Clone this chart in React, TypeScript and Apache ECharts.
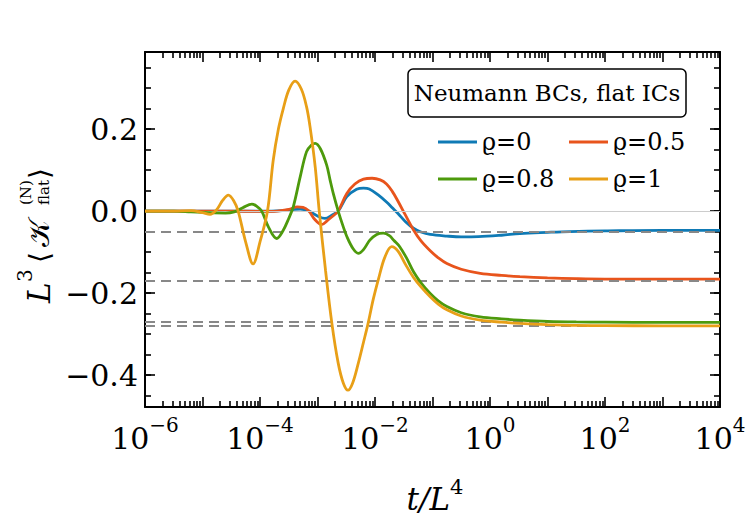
import React, { useEffect, useRef } from "react";
import * as echarts from "echarts";

// x values are log10(t / L^4)
const logT_rho0 = [-6, -4.5, -3.8, -3.6, -3.45, -3.3, -3.15, -3.0, -2.87, -2.75, -2.64, -2.49, -2.32, -2.2, -2.1, -1.95, -1.8, -1.7, -1.6, -1.47, -1.33, -1.2, -1.04, -0.75, -0.5, -0.2, 0.2, 0.52, 1.0, 1.39, 2.0, 3.0, 4.0];
const val_rho0 = [0, 0, 0, 0.001, 0.003, 0.005, 0, -0.012, -0.018, -0.01, 0, 0.035, 0.053, 0.056, 0.054, 0.04, 0.022, 0.008, -0.006, -0.026, -0.042, -0.051, -0.057, -0.061, -0.063, -0.0625, -0.059, -0.055, -0.052, -0.05, -0.0485, -0.047, -0.047];

const logT_rho05 = [-6, -4.5, -4.0, -3.7, -3.5, -3.35, -3.25, -3.15, -3.05, -2.93, -2.82, -2.72, -2.64, -2.49, -2.35, -2.2, -2.05, -1.91, -1.8, -1.7, -1.6, -1.47, -1.33, -1.2, -1.04, -0.9, -0.75, -0.5, -0.17, 0.2, 0.52, 1.0, 1.5, 2.0, 3.0, 4.0];
const val_rho05 = [0, 0, -0.001, 0, 0.004, 0.01, 0.009, 0, -0.02, -0.033, -0.022, -0.011, 0, 0.043, 0.066, 0.078, 0.08, 0.076, 0.066, 0.048, 0.024, -0.01, -0.046, -0.073, -0.097, -0.114, -0.128, -0.142, -0.152, -0.157, -0.16, -0.163, -0.165, -0.166, -0.166, -0.166];

const logT_rho08 = [-6, -5.5, -5.2, -4.9, -4.6, -4.45, -4.3, -4.14, -4.05, -3.97, -3.85, -3.71, -3.6, -3.5, -3.42, -3.3, -3.19, -3.1, -3.04, -2.95, -2.84, -2.78, -2.72, -2.64, -2.56, -2.49, -2.38, -2.29, -2.2, -2.09, -1.97, -1.855, -1.75, -1.67, -1.57, -1.45, -1.33, -1.2, -1.04, -0.9, -0.75, -0.5, -0.17, 0.2, 0.52, 1.0, 1.5, 2.0, 3.0, 4.0];
const val_rho08 = [0, 0, -0.002, -0.004, -0.005, -0.002, 0.008, 0.017, 0.011, 0, -0.04, -0.067, -0.048, -0.018, 0.011, 0.084, 0.145, 0.162, 0.165, 0.152, 0.112, 0.075, 0.04, 0, -0.035, -0.062, -0.092, -0.103, -0.094, -0.071, -0.057, -0.054, -0.06, -0.072, -0.087, -0.115, -0.148, -0.175, -0.201, -0.219, -0.233, -0.248, -0.258, -0.263, -0.266, -0.269, -0.2705, -0.271, -0.2715, -0.2715];

const logT_rho1 = [-6, -5.5, -5.2, -5.0, -4.87, -4.75, -4.65, -4.55, -4.46, -4.38, -4.25, -4.12, -4.0, -3.87, -3.77, -3.68, -3.595, -3.5, -3.39, -3.28, -3.19, -3.13, -3.04, -2.97, -2.86, -2.75, -2.64, -2.55, -2.47, -2.39, -2.29, -2.2, -2.12, -2.03, -1.94, -1.83, -1.71, -1.6, -1.47, -1.33, -1.2, -1.04, -0.9, -0.75, -0.5, -0.17, 0.2, 0.52, 1.0, 1.5, 2.0, 3.0, 4.0];
const val_rho1 = [0, 0, 0.001, -0.004, -0.008, 0.004, 0.026, 0.039, 0.026, 0, -0.075, -0.129, -0.075, 0, 0.124, 0.2, 0.25, 0.295, 0.317, 0.297, 0.254, 0.206, 0.108, 0, -0.145, -0.274, -0.371, -0.42, -0.437, -0.42, -0.371, -0.32, -0.274, -0.215, -0.166, -0.113, -0.087, -0.098, -0.13, -0.162, -0.185, -0.209, -0.227, -0.241, -0.256, -0.266, -0.271, -0.274, -0.277, -0.279, -0.2795, -0.28, -0.28];

const asymptotes = [-0.047, -0.166, -0.2715, -0.28];
const seriesNames = ["\u03f1=0", "\u03f1=0.5", "\u03f1=0.8", "\u03f1=1"];
const seriesColors = ["#0f7ab5", "#e8541c", "#4d9a0c", "#e89f17"];
const xLabelExps = [-6, -4, -2, 0, 2, 4];
const yLabelVals = [-0.4, -0.2, 0, 0.2];

const X_MIN = -6, X_MAX = 4, Y_MIN = -0.478, Y_MAX = 0.388;
const FONT = "'DejaVu Serif', serif";

const xMajor: number[] = [];
const xMinor: number[] = [];
for (let n = X_MIN; n <= X_MAX; n++) {
  xMajor.push(n);
  if (n < X_MAX) for (let k = 2; k <= 9; k++) xMinor.push(n + Math.log10(k));
}
const yMajor = yLabelVals.slice();
const yMinor: number[] = [];
for (let i = -9; i <= 7; i++) yMinor.push(Math.round(i * 5) / 100);

const pairs = (xs: number[], ys: number[]) => xs.map((x, i) => [x, ys[i]]);

function buildOption() {
  const tickLine = { color: "#000", width: 1.6 };
  const mkX = (pos: string, ticks: number[], len: number, main: boolean, labels: boolean) => ({
    type: "value",
    min: X_MIN,
    max: X_MAX,
    position: pos,
    axisLine: { show: main, onZero: false, lineStyle: { color: "#000", width: 2 } },
    axisTick: { show: true, inside: true, length: len, customValues: ticks, lineStyle: tickLine },
    axisLabel: labels
      ? {
          show: true,
          customValues: xLabelExps,
          margin: 8,
          formatter: (v: number) => {
            const e = Math.round(v);
            return `{b|10}{s|${e < 0 ? "\u2212" : ""}${Math.abs(e)}}`;
          },
          rich: {
            b: { fontSize: 30, fontFamily: FONT, color: "#000", lineHeight: 38, verticalAlign: "bottom" },
            s: { fontSize: 20, fontFamily: FONT, color: "#000", lineHeight: 18, verticalAlign: "top" },
          },
        }
      : { show: false },
    splitLine: { show: false },
  });
  const mkY = (pos: string, ticks: number[], len: number, main: boolean, labels: boolean) => ({
    type: "value",
    min: Y_MIN,
    max: Y_MAX,
    position: pos,
    axisLine: { show: main, onZero: false, lineStyle: { color: "#000", width: 2 } },
    axisTick: { show: true, inside: true, length: len, customValues: ticks, lineStyle: tickLine },
    axisLabel: labels
      ? {
          show: true,
          customValues: yLabelVals,
          margin: 7,
          fontSize: 30,
          fontFamily: FONT,
          color: "#000",
          formatter: (v: number) => (Math.abs(v) < 1e-9 ? "0.0" : (v < 0 ? "\u2212" : "") + Math.abs(v).toFixed(1)),
        }
      : { show: false },
    splitLine: { show: false },
  });

  const datasets = [
    pairs(logT_rho0, val_rho0),
    pairs(logT_rho05, val_rho05),
    pairs(logT_rho08, val_rho08),
    pairs(logT_rho1, val_rho1),
  ];

  const curveSeries = datasets.map((d, i) => ({
    name: seriesNames[i],
    type: "line",
    data: d,
    smooth: 0.35,
    showSymbol: false,
    symbol: "none",
    lineStyle: { color: seriesColors[i], width: 2.8 },
    itemStyle: { color: seriesColors[i] },
    z: 3 + i,
    silent: true,
  }));

  const legendBase = {
    orient: "vertical",
    icon: "rect",
    itemWidth: 39,
    itemHeight: 3,
    itemGap: 11,
    top: 124,
    textStyle: { fontSize: 24, fontFamily: FONT, color: "#000", lineHeight: 26 },
    selectedMode: false,
  };

  return {
    animation: false,
    backgroundColor: "#fff",
    grid: { left: 145, top: 52, right: 30, bottom: 114, containLabel: false },
    xAxis: [
      mkX("bottom", xMajor, 10, true, true),
      mkX("bottom", xMinor, 6, false, false),
      mkX("top", xMajor, 10, true, false),
      mkX("top", xMinor, 6, false, false),
    ],
    yAxis: [
      mkY("left", yMajor, 10, true, true),
      mkY("left", yMinor, 6, false, false),
      mkY("right", yMajor, 10, true, false),
      mkY("right", yMinor, 6, false, false),
    ],
    legend: [
      { ...legendBase, left: 433, data: [seriesNames[0], seriesNames[2]] },
      { ...legendBase, left: 564, data: [seriesNames[1], seriesNames[3]] },
    ],
    series: [
      {
        name: "zero",
        type: "line",
        data: [],
        silent: true,
        z: 1,
        markLine: {
          silent: true,
          symbol: ["none", "none"],
          label: { show: false },
          lineStyle: { color: "#cccccc", width: 1.2, type: "solid" },
          data: [{ yAxis: 0 }],
        },
      },
      ...curveSeries,
      {
        name: "asym",
        type: "line",
        data: [],
        silent: true,
        z: 10,
        markLine: {
          silent: true,
          symbol: ["none", "none"],
          label: { show: false },
          lineStyle: { color: "#888888", width: 2, type: [10, 6] },
          data: asymptotes.map((a) => ({ yAxis: a })),
        },
      },
    ],
    graphic: [
      {
        type: "rect",
        shape: { x: 408, y: 69, width: 278, height: 48, r: 5 },
        style: { fill: "#fff", stroke: "#000", lineWidth: 1.5 },
        z: 20,
      },
      {
        type: "text",
        x: 547,
        y: 93,
        z: 21,
        style: { text: "Neumann BCs, flat ICs", fontSize: 23, fontFamily: FONT, fill: "#000", align: "center", verticalAlign: "middle" },
      },
      {
        type: "text",
        x: 435,
        y: 495,
        z: 21,
        style: {
          text: "{i|t/L}{s|4}",
          align: "center",
          verticalAlign: "middle",
          rich: {
            i: { fontSize: 31, fontFamily: FONT, fontStyle: "italic", fill: "#000", lineHeight: 38, verticalAlign: "bottom" },
            s: { fontSize: 21, fontFamily: FONT, fill: "#000", lineHeight: 20, verticalAlign: "top" },
          },
        },
      },
      {
        type: "group",
        x: 50,
        y: 303,
        rotation: Math.PI / 2,
        z: 21,
        children: [
          { type: "text", x: 0, y: -11, style: { text: "L", fontSize: 31, fontStyle: "italic", fontFamily: FONT, fill: "#000", verticalAlign: "middle" } },
          { type: "text", x: 21, y: -25, style: { text: "3", fontSize: 20, fontFamily: FONT, fill: "#000", verticalAlign: "middle" } },
          { type: "text", x: 40, y: -11, style: { text: "\u27e8", fontSize: 28, fontFamily: FONT, fill: "#000", verticalAlign: "middle" } },
          { type: "text", x: 56, y: -11, style: { text: "\ud835\udca6", fontSize: 29, fontFamily: FONT, fill: "#000", verticalAlign: "middle" } },
          { type: "text", x: 98, y: -24, style: { text: "(N)", fontSize: 15, fontFamily: FONT, fill: "#000", verticalAlign: "middle" } },
          { type: "text", x: 98, y: -6, style: { text: "flat", fontSize: 15, fontFamily: FONT, fill: "#000", verticalAlign: "middle" } },
          { type: "text", x: 124, y: -11, style: { text: "\u27e9", fontSize: 28, fontFamily: FONT, fill: "#000", verticalAlign: "middle" } },
        ],
      },
    ],
  };
}

export default function App() {
  const ref = useRef<HTMLDivElement>(null);
  useEffect(() => {
    if (!ref.current) return;
    const chart = echarts.init(ref.current, null, { renderer: "svg" });
    chart.setOption(buildOption() as any);
    return () => chart.dispose();
  }, []);
  return (
    <div
      ref={ref}
      style={{ position: "absolute", left: 0, top: 0, width: 750, height: 521, background: "#fff" }}
    />
  );
}
